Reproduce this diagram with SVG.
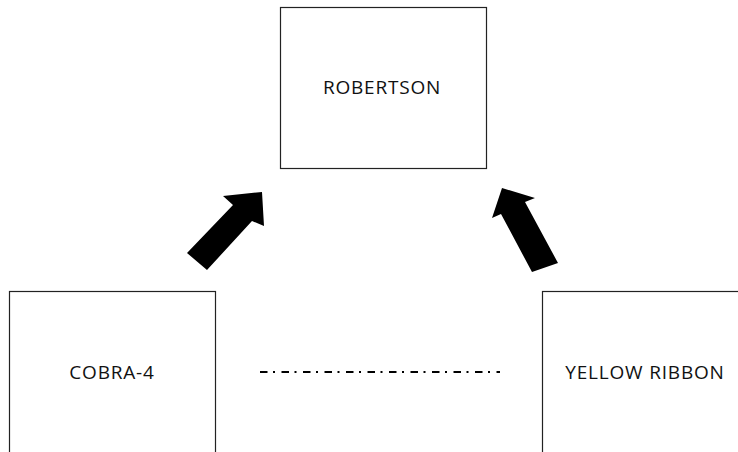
<svg xmlns="http://www.w3.org/2000/svg" width="738" height="452" viewBox="0 0 738 452">
<style>
.box{fill:#fff;stroke:#222;stroke-width:1.2}
.lbl{font-family:"Open Sans","Noto Sans","DejaVu Sans",sans-serif;font-size:19px;letter-spacing:0.8px;fill:#111;text-anchor:middle}
.arrow{fill:#000}
</style>
<rect width="738" height="452" fill="#fff"/>
<g id="robertson">
<rect class="box" x="280.5" y="7.5" width="206" height="161"/>
<text class="lbl" x="382" y="94">ROBERTSON</text>
</g>
<g id="cobra4">
<rect class="box" x="9.5" y="291.5" width="206" height="180"/>
<text class="lbl" x="112" y="379">COBRA-4</text>
</g>
<g id="yellowribbon">
<rect class="box" x="542.5" y="291.5" width="220" height="180"/>
<text class="lbl" x="645" y="379">YELLOW RIBBON</text>
</g>
<g id="connectors">
<polygon class="arrow" points="262,192 223,196 233,205 187,253 207,270 252,221 264,226"/>
<polygon class="arrow" points="502,188 492,218 501,214 532,272 558,263 525,202 535,198"/>
<line x1="260" y1="372" x2="500" y2="372" stroke="#000" stroke-width="2" stroke-dasharray="7.5 5.5 2 6.5"/>
</g>
</svg>
